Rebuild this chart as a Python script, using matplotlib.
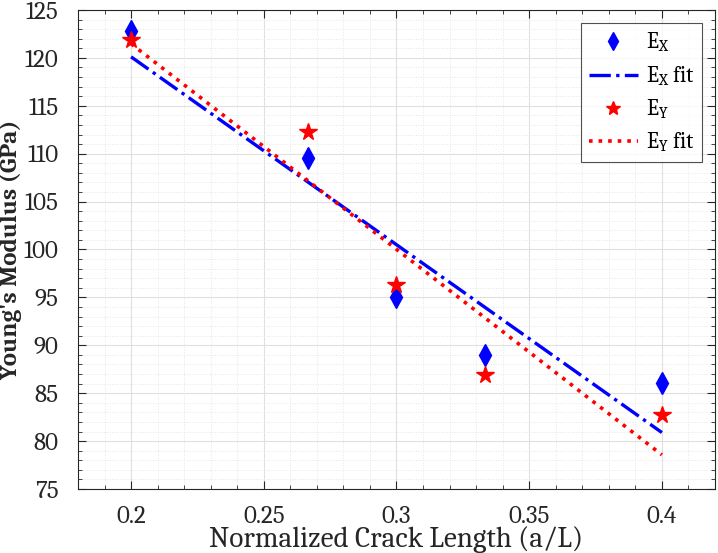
import matplotlib
matplotlib.use("Agg")
from matplotlib import pyplot as plt
from matplotlib.ticker import MultipleLocator
import numpy as np

# crack length ratios and moduli
crack_ratio = [0.2, 0.2667, 0.3, 0.3333, 0.4]
e_x = [122.8, 109.6, 95.0, 89.0, 86.1]
e_y = [121.9, 112.3, 96.3, 86.9, 82.7]

plt.rcParams['font.family'] = ['Caladea', 'Liberation Serif', 'DejaVu Serif']
plt.rcParams['mathtext.fontset'] = 'custom'
plt.rcParams['mathtext.rm'] = 'Caladea'
plt.rcParams['mathtext.it'] = 'Caladea:italic'
plt.rcParams['mathtext.bf'] = 'Caladea:bold'

fig = plt.figure(figsize=(7.18, 5.53), dpi=100)
ax = fig.add_axes([0.1086, 0.1157, 0.8872, 0.8663])

x = np.array(crack_ratio)
fit_x = np.polyfit(x, e_x, 1)
fit_y = np.polyfit(x, e_y, 1)

ax.plot(x, e_x, linestyle='none', marker='d', markersize=11,
        color='#0000ff', label=r'$\mathrm{E_X}$')
ax.plot(x, np.polyval(fit_x, x), linestyle='-.', linewidth=2.4,
        color='#0000ff', label=r'$\mathrm{E_X}$ fit')
ax.plot(x, e_y, linestyle='none', marker='*', markersize=13,
        color='#ff0000', label=r'$\mathrm{E_Y}$')
ax.plot(x, np.polyval(fit_y, x), linestyle=':', linewidth=2.6,
        color='#ff0000', label=r'$\mathrm{E_Y}$ fit')

ax.set_xlim(0.18, 0.42)
ax.set_ylim(75, 125)
ax.set_xticks([0.2, 0.25, 0.3, 0.35, 0.4])
ax.set_xticklabels(['0.2', '0.25', '0.3', '0.35', '0.4'])
ax.xaxis.set_minor_locator(MultipleLocator(0.01))
ax.yaxis.set_major_locator(MultipleLocator(5))
ax.yaxis.set_minor_locator(MultipleLocator(1))

ax.tick_params(which='both', direction='in', top=True, right=True,
               labelsize=18, colors='#262626')
ax.tick_params(axis='x', which='major', pad=12)
ax.tick_params(axis='y', which='major', pad=14)
ax.tick_params(which='major', length=6, width=0.8)
ax.tick_params(which='minor', length=3, width=0.6)

ax.grid(which='major', color='#e0e0e0', linewidth=0.8)
ax.grid(which='minor', color='#e6e6e6', linestyle=':', linewidth=0.7)
ax.set_axisbelow(True)
for s in ax.spines.values():
    s.set_color('#262626')
    s.set_linewidth(0.8)

ax.set_xlabel('Normalized Crack Length (a/L)', fontsize=21, color='#262626')
ax.set_ylabel("Young's Modulus (GPa)", fontsize=18, fontweight='bold',
              color='#262626')
ax.xaxis.set_label_coords(0.5, -0.078)
ax.yaxis.set_label_coords(-0.087, 0.5)

leg = ax.legend(loc='upper right', fontsize=16, frameon=True, fancybox=False,
                edgecolor='#262626', labelspacing=0.45, handlelength=2.2,
                handletextpad=0.35, borderpad=0.35, borderaxespad=0,
                bbox_to_anchor=(0.98, 0.972), markerscale=0.8)
leg.get_frame().set_linewidth(0.8)

fig.savefig('out.png', dpi=100)
